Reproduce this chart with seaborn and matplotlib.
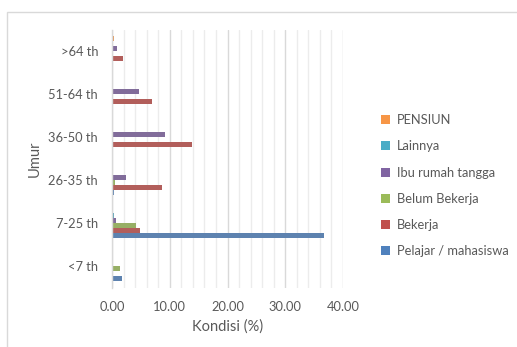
import matplotlib
matplotlib.use("Agg")
import matplotlib.pyplot as plt
from matplotlib.patches import Rectangle, Patch
from matplotlib.ticker import MultipleLocator, FormatStrFormatter
import seaborn as sns
import pandas as pd

# Age groups (top to bottom) and occupation categories
umur = [">64 th", "51-64 th", "36-50 th", "26-35 th", "7-25 th", "<7 th"]
kategori = ["PENSIUN", "Lainnya", "Ibu rumah tangga", "Belum Bekerja",
            "Bekerja", "Pelajar / mahasiswa"]

pensiun = [0.3, 0.0, 0.0, 0.0, 0.0, 0.0]
lainnya = [0.0, 0.0, 0.0, 0.0, 0.3, 0.0]
ibu_rumah_tangga = [0.9, 4.7, 9.1, 2.4, 0.75, 0.0]
belum_bekerja = [0.2, 0.0, 0.0, 0.5, 4.2, 1.3]
bekerja = [1.9, 7.0, 13.9, 8.7, 4.8, 0.0]
pelajar = [0.0, 0.0, 0.0, 0.3, 36.7, 1.8]

warna = ["#F79646", "#4BACC6", "#8064A2", "#9BBB59", "#C0504D", "#4F81BD"]

series = [pensiun, lainnya, ibu_rumah_tangga, belum_bekerja, bekerja, pelajar]
rows = []
for nama, nilai in zip(kategori, series):
    for u, v in zip(umur, nilai):
        rows.append({"Umur": u, "Kategori": nama, "Nilai": v})
df = pd.DataFrame(rows)

sns.set_theme(style="white")
plt.rcParams["font.family"] = ["Lato", "DejaVu Sans"]
text_color = "#595959"

W, H = 517, 347
fig = plt.figure(figsize=(W / 100, H / 100), dpi=100)
fig.patch.set_facecolor("white")

# chart-area border
fig.add_artist(Rectangle((7 / W, -0.05), 1.2, 1 - 12 / H + 0.05,
                         transform=fig.transFigure, fill=False,
                         edgecolor="#d9d9d9", linewidth=1.0))

left, right = 112 / W, 343 / W
top, bottom = 1 - 29.5 / H, 1 - 287.5 / H
ax = fig.add_axes([left, bottom, right - left, top - bottom])

sns.barplot(data=df, y="Umur", x="Nilai", hue="Kategori", order=umur,
            hue_order=kategori, palette=warna, orient="h", width=0.70,
            linewidth=0, ax=ax, legend=False)

ax.set_xlim(0, 40)
ax.xaxis.set_major_locator(MultipleLocator(10))
ax.xaxis.set_minor_locator(MultipleLocator(2))
ax.xaxis.set_major_formatter(FormatStrFormatter("%.2f"))
ax.grid(which="major", axis="x", color="#d9d9d9", linewidth=1.0)
ax.grid(which="minor", axis="x", color="#ececec", linewidth=1.0)
ax.grid(False, axis="y")
ax.set_axisbelow(True)

for side in ["top", "right", "bottom"]:
    ax.spines[side].set_visible(False)
ax.spines["left"].set_color("#d9d9d9")
ax.spines["left"].set_linewidth(1.0)

ax.tick_params(axis="both", which="both", length=0, colors=text_color,
               labelsize=9.3)
ax.tick_params(axis="y", pad=10)
ax.tick_params(axis="x", pad=10)

ax.set_xlabel("Kondisi (%)", fontsize=10.5, color=text_color, labelpad=4)
ax.set_ylabel("Umur", fontsize=10.5, color=text_color, labelpad=5)

handles = [Patch(facecolor=c, edgecolor="none") for c in warna]
fig.legend(handles, kategori, loc="upper left",
           bbox_to_anchor=(376 / W, 1 - 109 / H), frameon=False,
           fontsize=9.3, labelcolor=text_color, handlelength=0.7,
           handleheight=0.7, handletextpad=0.5, labelspacing=1.10,
           borderaxespad=0)

fig.savefig("out.png", dpi=100, facecolor="white")
